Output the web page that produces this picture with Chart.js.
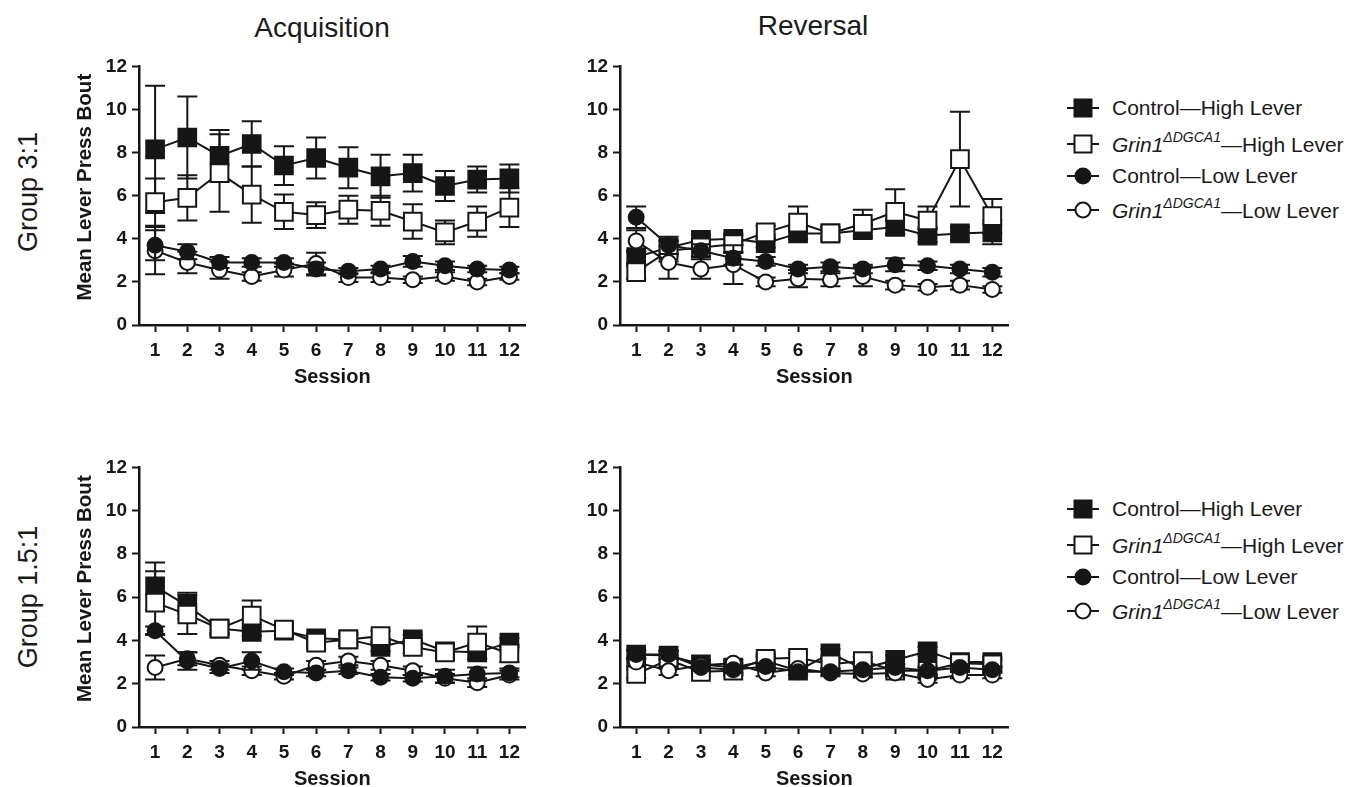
<!DOCTYPE html>
<html>
<head>
<meta charset="utf-8">
<script src="https://cdn.jsdelivr.net/npm/chart.js@4.4.1/dist/chart.umd.min.js"></script>
<style>
  html, body { margin: 0; padding: 0; background: #fff; }
  body { width: 1353px; height: 787px; position: relative; overflow: hidden; font-family: "Liberation Sans", Arial, sans-serif; color: #1a1a1a; }
  .cv { position: absolute; }
  .title { position: absolute; font-size: 28px; transform: translate(-50%, -50%); white-space: nowrap; }
  .group { position: absolute; font-size: 27px; white-space: nowrap; transform: translate(-50%, -50%) rotate(-90deg); }
  .leg { position: absolute; left: 1066px; font-size: 21px; white-space: nowrap; display: flex; align-items: center; transform: translateY(-50%); }
  .leg svg { margin-right: 12px; }
  .leg i sup { font-size: 14px; position: relative; top: -2px; }
</style>
</head>
<body>
<canvas id="c1" class="cv" style="left:60px;top:50px;width:480px;height:350px" width="480" height="350"></canvas>
<canvas id="c2" class="cv" style="left:541px;top:50px;width:482px;height:350px" width="482" height="350"></canvas>
<canvas id="c3" class="cv" style="left:60px;top:451px;width:480px;height:351px" width="480" height="351"></canvas>
<canvas id="c4" class="cv" style="left:541px;top:451px;width:482px;height:351px" width="482" height="351"></canvas>

<div class="title" style="left:322px;top:28px">Acquisition</div>
<div class="title" style="left:813px;top:26px">Reversal</div>
<div class="group" style="left:28px;top:192px">Group 3:1</div>
<div class="group" style="left:28px;top:597px">Group 1.5:1</div>

<div id="legends"></div>

<script>
// ---------- data ----------
const sessions = ['1','2','3','4','5','6','7','8','9','10','11','12'];
const yTicks = [0, 2, 4, 6, 8, 10, 12];
const seriesNames = ['Control\u2014High Lever', 'Grin1\u0394DGCA1\u2014High Lever', 'Control\u2014Low Lever', 'Grin1\u0394DGCA1\u2014Low Lever'];

// Group 3:1, Acquisition
const acq31CtrlHigh    = [8.15, 8.7, 7.85, 8.4, 7.4, 7.75, 7.3, 6.9, 7.05, 6.45, 6.75, 6.8];
const acq31CtrlHighErr = [2.95, 1.9, 1.2, 1.05, 0.9, 0.95, 0.95, 1.0, 0.85, 0.7, 0.6, 0.65];
const acq31GrinHigh    = [5.7, 5.9, 7.05, 6.05, 5.25, 5.1, 5.35, 5.3, 4.8, 4.3, 4.8, 5.45];
const acq31GrinHighErr = [1.1, 1.05, 1.8, 1.3, 0.8, 0.6, 0.65, 0.7, 0.8, 0.55, 0.7, 0.9];
const acq31CtrlLow     = [3.7, 3.4, 2.9, 2.9, 2.9, 2.6, 2.5, 2.6, 2.95, 2.75, 2.6, 2.55];
const acq31CtrlLowErr  = [0.7, 0.35, 0.25, 0.2, 0.2, 0.3, 0.15, 0.15, 0.25, 0.2, 0.15, 0.15];
const acq31GrinLow     = [3.45, 2.9, 2.55, 2.25, 2.55, 2.85, 2.2, 2.2, 2.1, 2.25, 2.0, 2.25];
const acq31GrinLowErr  = [1.1, 0.5, 0.4, 0.2, 0.3, 0.5, 0.2, 0.2, 0.15, 0.2, 0.15, 0.15];

// Group 3:1, Reversal
const rev31CtrlHigh    = [3.15, 3.6, 3.95, 4.0, 3.8, 4.25, 4.25, 4.4, 4.55, 4.15, 4.25, 4.3];
const rev31CtrlHighErr = [0.3, 0.3, 0.25, 0.25, 0.2, 0.25, 0.2, 0.25, 0.3, 0.3, 0.3, 0.55];
const rev31GrinHigh    = [2.45, 3.45, 3.6, 3.75, 4.3, 4.75, 4.25, 4.7, 5.25, 4.85, 7.7, 5.05];
const rev31GrinHighErr = [0.3, 0.5, 0.4, 0.4, 0.3, 0.75, 0.3, 0.65, 1.05, 0.65, 2.2, 0.8];
const rev31CtrlLow     = [5.0, 3.7, 3.45, 3.1, 2.95, 2.6, 2.7, 2.6, 2.8, 2.75, 2.6, 2.45];
const rev31CtrlLowErr  = [0.5, 0.4, 0.3, 0.3, 0.2, 0.2, 0.2, 0.2, 0.3, 0.2, 0.2, 0.2];
const rev31GrinLow     = [3.9, 2.9, 2.6, 2.8, 2.0, 2.15, 2.1, 2.25, 1.85, 1.75, 1.85, 1.65];
const rev31GrinLowErr  = [0.5, 0.75, 0.45, 0.9, 0.2, 0.4, 0.3, 0.45, 0.2, 0.15, 0.2, 0.15];

// Group 1.5:1, Acquisition
const acq15CtrlHigh    = [6.5, 5.6, 4.55, 4.4, 4.45, 4.1, 4.05, 3.7, 4.05, 3.5, 3.45, 3.9];
const acq15CtrlHighErr = [1.1, 0.6, 0.2, 0.2, 0.2, 0.2, 0.2, 0.2, 0.2, 0.3, 0.3, 0.2];
const acq15GrinHigh    = [5.75, 5.2, 4.55, 5.15, 4.5, 3.9, 4.05, 4.2, 3.7, 3.45, 3.9, 3.4];
const acq15GrinHighErr = [1.45, 0.9, 0.3, 0.7, 0.2, 0.3, 0.3, 0.25, 0.3, 0.3, 0.75, 0.4];
const acq15CtrlLow     = [4.45, 3.05, 2.7, 3.05, 2.55, 2.5, 2.6, 2.3, 2.25, 2.35, 2.45, 2.5];
const acq15CtrlLowErr  = [0.2, 0.4, 0.2, 0.4, 0.15, 0.15, 0.15, 0.15, 0.15, 0.3, 0.3, 0.2];
const acq15GrinLow     = [2.75, 3.15, 2.85, 2.6, 2.35, 2.85, 3.05, 2.85, 2.6, 2.25, 2.05, 2.4];
const acq15GrinLowErr  = [0.55, 0.3, 0.2, 0.2, 0.15, 0.2, 0.2, 0.2, 0.2, 0.2, 0.2, 0.2];

// Group 1.5:1, Reversal
const rev15CtrlHigh    = [3.35, 3.3, 2.9, 2.75, 3.05, 2.6, 3.4, 2.7, 3.1, 3.5, 3.0, 3.0];
const rev15CtrlHighErr = [0.2, 0.2, 0.2, 0.2, 0.2, 0.2, 0.2, 0.2, 0.2, 0.2, 0.2, 0.2];
const rev15GrinHigh    = [2.45, 3.1, 2.55, 2.6, 3.15, 3.2, 2.9, 3.05, 2.6, 2.6, 2.95, 2.9];
const rev15GrinHighErr = [0.2, 0.2, 0.2, 0.2, 0.2, 0.2, 0.2, 0.2, 0.2, 0.2, 0.2, 0.2];
const rev15CtrlLow     = [3.35, 3.35, 2.75, 2.65, 2.8, 2.55, 2.55, 2.65, 2.75, 2.6, 2.75, 2.65];
const rev15CtrlLowErr  = [0.2, 0.2, 0.15, 0.15, 0.15, 0.15, 0.15, 0.15, 0.15, 0.15, 0.15, 0.15];
const rev15GrinLow     = [3.0, 2.6, 2.85, 2.95, 2.5, 2.7, 2.5, 2.45, 2.5, 2.2, 2.4, 2.4];
const rev15GrinLowErr  = [0.2, 0.2, 0.15, 0.15, 0.15, 0.15, 0.15, 0.15, 0.15, 0.15, 0.15, 0.15];

// ---------- styling ----------
const INK = '#161616';
const FONT = '"Liberation Sans", Arial, sans-serif';

const errorBars = {
  id: 'errorBars',
  beforeDatasetDraw(chart, args) {
    const ds = chart.data.datasets[args.index];
    if (!ds.errors) return;
    const meta = args.meta;
    const y = chart.scales.y;
    const ctx = chart.ctx;
    ctx.save();
    ctx.strokeStyle = INK;
    ctx.lineWidth = 2;
    meta.data.forEach((pt, i) => {
      const v = ds.data[i], e = ds.errors[i];
      const yt = y.getPixelForValue(v + e), yb = y.getPixelForValue(v - e);
      const x = pt.x;
      ctx.beginPath();
      ctx.moveTo(x, yt); ctx.lineTo(x, yb);
      ctx.moveTo(x - 10, yt); ctx.lineTo(x + 10, yt);
      ctx.moveTo(x - 10, yb); ctx.lineTo(x + 10, yb);
      ctx.stroke();
    });
    ctx.restore();
  }
};

function mkDs(label, data, errors, shape, filled, order) {
  return {
    label, data, errors,
    borderColor: INK, borderWidth: 2,
    pointStyle: shape,
    pointRadius: shape === 'rect' ? 12.5 : 7.5,
    pointBorderWidth: 2,
    pointBackgroundColor: filled ? INK : '#ffffff',
    pointBorderColor: INK,
    fill: false, tension: 0, order
  };
}

function makeChart(id, sets, showYTitle) {
  const [ch, chE, gh, ghE, cl, clE, gl, glE] = sets;
  new Chart(document.getElementById(id), {
    type: 'line',
    data: {
      labels: sessions,
      datasets: [
        mkDs(seriesNames[2], cl, clE, 'circle', true, 1),
        mkDs(seriesNames[3], gl, glE, 'circle', false, 2),
        mkDs(seriesNames[1], gh, ghE, 'rect', false, 3),
        mkDs(seriesNames[0], ch, chE, 'rect', true, 4)
      ]
    },
    options: {
      responsive: false, animation: false, devicePixelRatio: 1,
      layout: { padding: { top: 15, right: 13, left: 0, bottom: 0 } },
      plugins: { legend: { display: false }, tooltip: { enabled: false } },
      scales: {
        x: {
          type: 'category', offset: true,
          grid: { display: true, drawOnChartArea: false, offset: false, tickLength: 7, tickWidth: 2, color: INK },
          border: { display: true, color: INK, width: 2.5 },
          ticks: { color: INK, font: { family: FONT, size: 19, weight: 'bold' }, padding: 7, maxRotation: 0, autoSkip: false },
          title: { display: true, text: 'Session', color: INK, font: { family: FONT, size: 20, weight: 'bold' }, padding: { top: 0, bottom: 11 } },
          afterFit(s) { s.height = 75; }
        },
        y: {
          min: 0, max: 12,
          afterBuildTicks(s) { s.ticks = yTicks.map(v => ({ value: v })); },
          grid: { display: true, drawOnChartArea: false, tickLength: 7, tickWidth: 2, color: INK },
          border: { display: true, color: INK, width: 2.5 },
          ticks: { color: INK, font: { family: FONT, size: 19, weight: 'bold' }, padding: 5 },
          title: { display: showYTitle, text: '   Mean Lever Press Bout', color: INK, font: { family: FONT, size: 20.5, weight: 'bold' }, padding: { top: 13, bottom: 0 } },
          afterFit(s) { s.width = 79; }
        }
      }
    },
    plugins: [errorBars]
  });
}

makeChart('c1', [acq31CtrlHigh, acq31CtrlHighErr, acq31GrinHigh, acq31GrinHighErr, acq31CtrlLow, acq31CtrlLowErr, acq31GrinLow, acq31GrinLowErr], true);
makeChart('c2', [rev31CtrlHigh, rev31CtrlHighErr, rev31GrinHigh, rev31GrinHighErr, rev31CtrlLow, rev31CtrlLowErr, rev31GrinLow, rev31GrinLowErr], false);
makeChart('c3', [acq15CtrlHigh, acq15CtrlHighErr, acq15GrinHigh, acq15GrinHighErr, acq15CtrlLow, acq15CtrlLowErr, acq15GrinLow, acq15GrinLowErr], true);
makeChart('c4', [rev15CtrlHigh, rev15CtrlHighErr, rev15GrinHigh, rev15GrinHighErr, rev15CtrlLow, rev15CtrlLowErr, rev15GrinLow, rev15GrinLowErr], false);

// ---------- legends (HTML text + small marker icons) ----------
function markerSvg(shape, filled) {
  const fill = filled ? INK : '#fff';
  const m = shape === 'rect'
    ? `<rect x="8.5" y="3.5" width="17" height="17" fill="${fill}" stroke="${INK}" stroke-width="2"/>`
    : `<circle cx="17" cy="12" r="7.5" fill="${fill}" stroke="${INK}" stroke-width="2"/>`;
  return `<svg width="34" height="24" viewBox="0 0 34 24"><line x1="1" y1="12" x2="33" y2="12" stroke="${INK}" stroke-width="2"/>${m}</svg>`;
}
const legendRows = [
  { shape: 'rect', filled: true, html: 'Control\u2014High Lever' },
  { shape: 'rect', filled: false, html: '<i>Grin1<sup>\u0394DGCA1</sup></i>\u2014High Lever' },
  { shape: 'circle', filled: true, html: 'Control\u2014Low Lever' },
  { shape: 'circle', filled: false, html: '<i>Grin1<sup>\u0394DGCA1</sup></i>\u2014Low Lever' }
];
const legendOffsets = [0, 36, 68, 102];
const legendTops = [108, 509];
let lh = '';
legendTops.forEach(t => {
  legendRows.forEach((r, i) => {
    lh += `<div class="leg" style="top:${t + legendOffsets[i]}px">${markerSvg(r.shape, r.filled)}<span>${r.html}</span></div>`;
  });
});
document.getElementById('legends').innerHTML = lh;
</script>
</body>
</html>
